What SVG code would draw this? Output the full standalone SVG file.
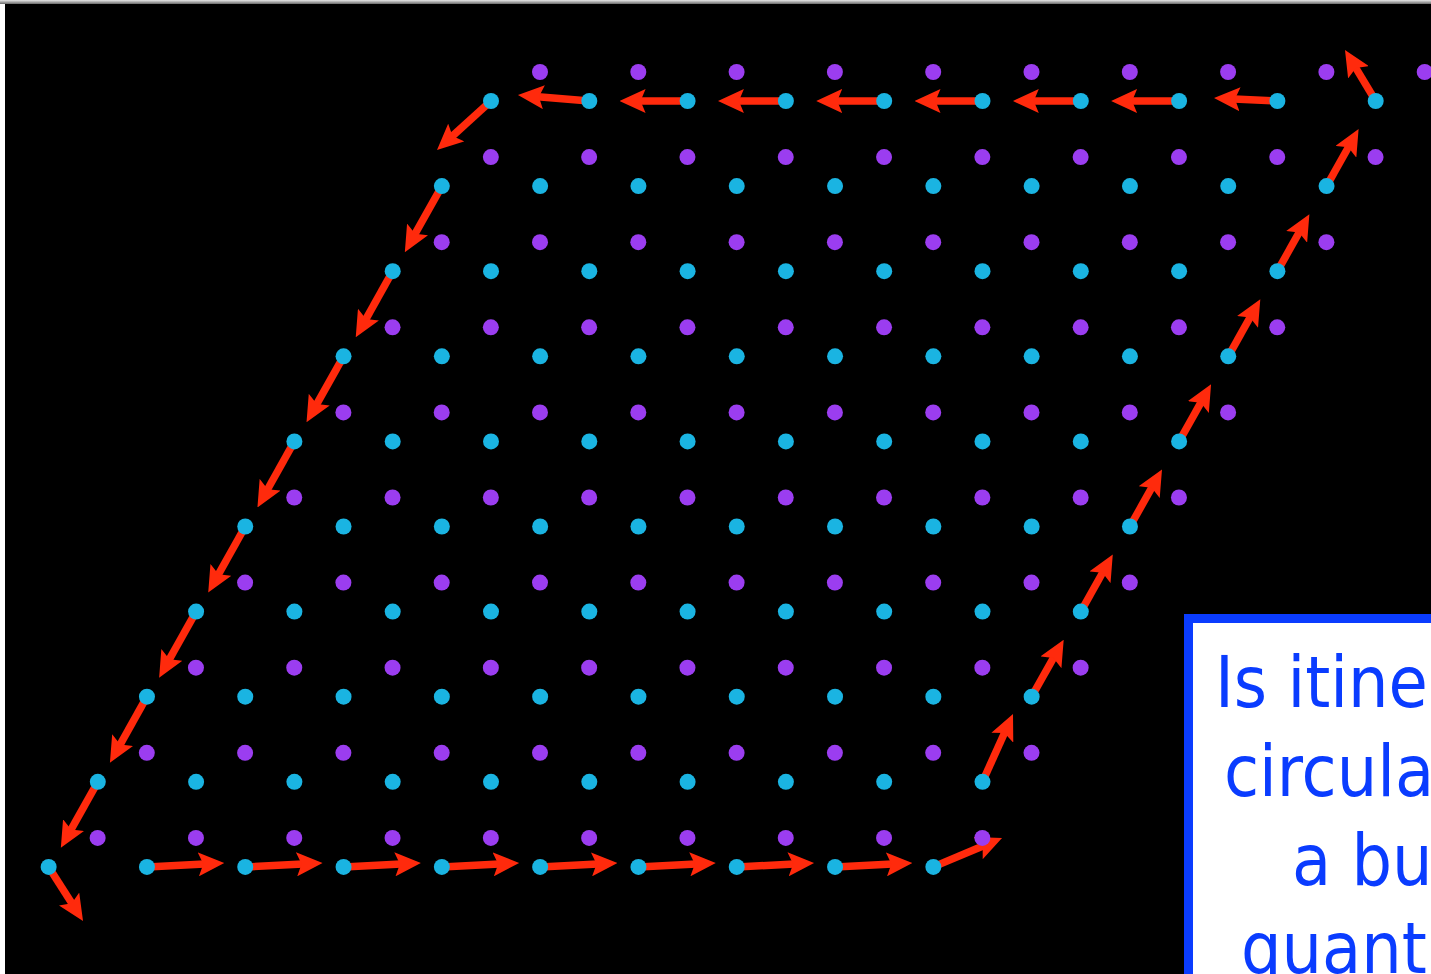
<svg xmlns="http://www.w3.org/2000/svg" xmlns:xlink="http://www.w3.org/1999/xlink" width="1431" height="974" viewBox="0 0 1431 974">
<defs>
<style>
.c{fill:#1ab4e2}
.p{fill:#9b3df0}
.a{stroke:#ff2a0c;stroke-width:7.5;fill:none;marker-end:url(#ah)}
.t{font-family:"DejaVu Sans Condensed","DejaVu Sans",sans-serif;font-size:71px;fill:#0a3cff}
</style>
<linearGradient id="tg" x1="0" y1="0" x2="0" y2="1">
<stop offset="0" stop-color="#e8e8e8"/>
<stop offset="1" stop-color="#6a6a6a"/>
</linearGradient>
<marker id="ah" markerUnits="userSpaceOnUse" viewBox="0 0 26 24" refX="6" refY="12" markerWidth="26" markerHeight="24" orient="auto">
<path d="M0,0 L26,12 L0,24 L5,12 Z" fill="#ff2a0c"/>
</marker>
<g id="crow" class="c">
<circle cx="0" cy="0" r="8"/><circle cx="98.3" cy="0" r="8"/><circle cx="196.6" cy="0" r="8"/><circle cx="294.9" cy="0" r="8"/><circle cx="393.2" cy="0" r="8"/><circle cx="491.5" cy="0" r="8"/><circle cx="589.8" cy="0" r="8"/><circle cx="688.1" cy="0" r="8"/><circle cx="786.4" cy="0" r="8"/><circle cx="884.7" cy="0" r="8"/>
</g>
<g id="prow" class="p">
<circle cx="0" cy="0" r="8"/><circle cx="98.3" cy="0" r="8"/><circle cx="196.6" cy="0" r="8"/><circle cx="294.9" cy="0" r="8"/><circle cx="393.2" cy="0" r="8"/><circle cx="491.5" cy="0" r="8"/><circle cx="589.8" cy="0" r="8"/><circle cx="688.1" cy="0" r="8"/><circle cx="786.4" cy="0" r="8"/><circle cx="884.7" cy="0" r="8"/>
</g>
</defs>
<rect x="0" y="0" width="1431" height="974" fill="#ffffff"/>
<rect x="0" y="0" width="1431" height="4" fill="url(#tg)"/>
<rect x="5" y="4" width="1426" height="970" fill="#000000"/>

<g id="connectors">
<line class="a" x1="589.3" y1="101" x2="537.9" y2="96.7"/>
<line class="a" x1="687.6" y1="101" x2="639.6" y2="101"/>
<line class="a" x1="785.9" y1="101" x2="737.9" y2="101"/>
<line class="a" x1="884.2" y1="101" x2="836.2" y2="101"/>
<line class="a" x1="982.5" y1="101" x2="934.5" y2="101"/>
<line class="a" x1="1080.8" y1="101" x2="1032.8" y2="101"/>
<line class="a" x1="1179.1" y1="101" x2="1131.1" y2="101"/>
<line class="a" x1="1277.4" y1="101" x2="1234" y2="99"/>
<line class="a" x1="1375.7" y1="101" x2="1355.3" y2="67.1"/>
<line class="a" x1="1326.55" y1="186.1" x2="1348.8" y2="146.5"/>
<line class="a" x1="1277.4" y1="271.2" x2="1299.6" y2="231.6"/>
<line class="a" x1="1228.25" y1="356.3" x2="1250.5" y2="316.7"/>
<line class="a" x1="1179.1" y1="441.4" x2="1201.3" y2="401.8"/>
<line class="a" x1="1129.95" y1="526.5" x2="1152.2" y2="486.9"/>
<line class="a" x1="1080.8" y1="611.6" x2="1103" y2="572"/>
<line class="a" x1="1031.65" y1="696.7" x2="1053.9" y2="657.1"/>
<line class="a" x1="982.5" y1="781.8" x2="1004.8" y2="732.2"/>
<line class="a" x1="933.35" y1="866.9" x2="983.6" y2="845.8"/>
<line class="a" x1="147.3" y1="867" x2="204.3" y2="864"/>
<line class="a" x1="245.6" y1="867" x2="302.6" y2="864"/>
<line class="a" x1="343.9" y1="867" x2="400.9" y2="864"/>
<line class="a" x1="442.2" y1="867" x2="499.2" y2="864"/>
<line class="a" x1="540.5" y1="867" x2="597.5" y2="864"/>
<line class="a" x1="638.8" y1="867" x2="695.8" y2="864"/>
<line class="a" x1="737.1" y1="867" x2="794.1" y2="864"/>
<line class="a" x1="835.4" y1="867" x2="892.4" y2="864"/>
<line class="a" x1="48.65" y1="866.9" x2="72.3" y2="904.1"/>
<line class="a" x1="491" y1="101" x2="451.8" y2="136.6"/>
<line class="a" x1="441.85" y1="186.1" x2="414.6" y2="234.7"/>
<line class="a" x1="392.7" y1="271.2" x2="365.5" y2="319.8"/>
<line class="a" x1="343.55" y1="356.3" x2="316.3" y2="404.9"/>
<line class="a" x1="294.4" y1="441.4" x2="267.2" y2="490"/>
<line class="a" x1="245.25" y1="526.5" x2="218" y2="575.1"/>
<line class="a" x1="196.1" y1="611.6" x2="168.9" y2="660.2"/>
<line class="a" x1="146.95" y1="696.7" x2="119.7" y2="745.3"/>
<line class="a" x1="97.8" y1="781.8" x2="70.6" y2="830.4"/>
</g>

<g id="purple-sites">
<use xlink:href="#prow" x="540" y="72"/>
<use xlink:href="#prow" x="490.85" y="157.1"/>
<use xlink:href="#prow" x="441.7" y="242.2"/>
<use xlink:href="#prow" x="392.55" y="327.3"/>
<use xlink:href="#prow" x="343.4" y="412.4"/>
<use xlink:href="#prow" x="294.25" y="497.5"/>
<use xlink:href="#prow" x="245.1" y="582.6"/>
<use xlink:href="#prow" x="195.95" y="667.7"/>
<use xlink:href="#prow" x="146.8" y="752.8"/>
<use xlink:href="#prow" x="97.65" y="837.9"/>
</g>
<g id="cyan-sites">
<use xlink:href="#crow" x="491" y="101"/>
<use xlink:href="#crow" x="441.85" y="186.1"/>
<use xlink:href="#crow" x="392.7" y="271.2"/>
<use xlink:href="#crow" x="343.55" y="356.3"/>
<use xlink:href="#crow" x="294.4" y="441.4"/>
<use xlink:href="#crow" x="245.25" y="526.5"/>
<use xlink:href="#crow" x="196.1" y="611.6"/>
<use xlink:href="#crow" x="146.95" y="696.7"/>
<use xlink:href="#crow" x="97.8" y="781.8"/>
<use xlink:href="#crow" x="48.65" y="866.9"/>
</g>

<g id="question-box">
<rect x="1188.5" y="618.5" width="300" height="400" fill="#ffffff" stroke="#0a3cff" stroke-width="9"/>
<text class="t" x="1215" y="707">Is itine</text>
<text class="t" x="1224" y="796">circula</text>
<text class="t" x="1292" y="885">a bu</text>
<text class="t" x="1241" y="973">quant</text>
</g>
</svg>
